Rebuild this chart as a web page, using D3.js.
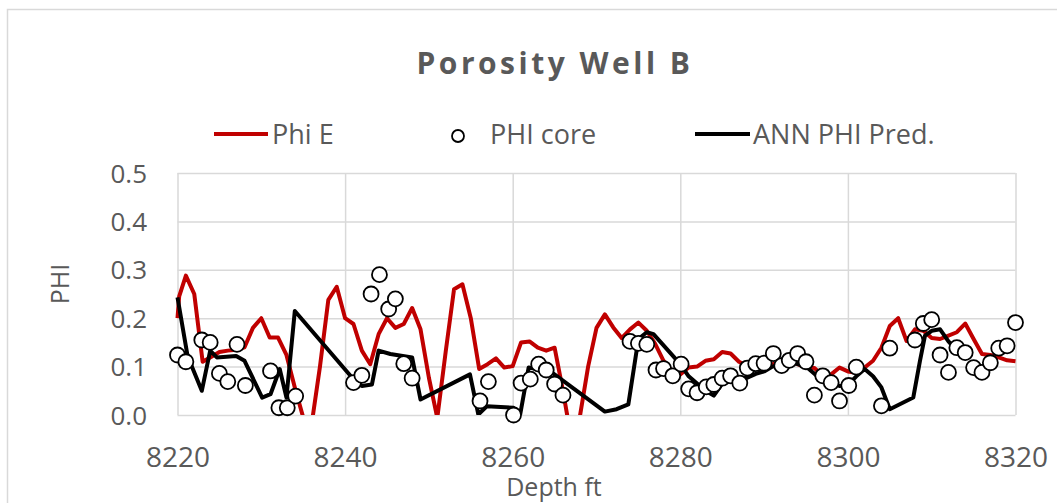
<!DOCTYPE html>
<html>
<head>
<meta charset="utf-8">
<script src="https://cdn.jsdelivr.net/npm/d3@7"></script>
<style>
  body { margin: 0; background: #fff; }
  text { font-family: "Open Sans", sans-serif; fill: #595959; }
</style>
</head>
<body>
<div id="chart"></div>
<script>
////////
// Data: [depth ft, porosity]
let phiE = [
  [8220, 0.2], [8220.2, 0.245], [8221, 0.288], [8222, 0.25], [8223, 0.11], [8224, 0.12],
  [8225, 0.13], [8226, 0.133], [8227, 0.135], [8228, 0.14], [8229, 0.18], [8230, 0.2],
  [8231, 0.16], [8232, 0.16], [8233, 0.124], [8234, 0.057], [8235, -0.005], [8236, -0.02],
  [8237, 0.1], [8238, 0.238], [8239, 0.265], [8240, 0.2], [8241, 0.188], [8242, 0.133],
  [8243, 0.105], [8244, 0.167], [8245, 0.2], [8246, 0.18], [8247, 0.188], [8248, 0.221],
  [8249, 0.177], [8250, 0.077], [8251, -0.006], [8252, 0.13], [8253, 0.26], [8254, 0.27],
  [8255, 0.2], [8256, 0.095], [8257, 0.105], [8258, 0.117], [8259, 0.098], [8260, 0.101],
  [8261, 0.15], [8262, 0.152], [8263, 0.139], [8264, 0.133], [8265, 0.139], [8266, 0.05],
  [8267, -0.05], [8268, -0.005], [8269, 0.1], [8270, 0.18], [8271, 0.208], [8272, 0.181],
  [8273, 0.159], [8274, 0.177], [8275, 0.191], [8276, 0.174], [8277, 0.147], [8278, 0.112],
  [8279, 0.091], [8280, 0.084], [8281, 0.098], [8282, 0.1], [8283, 0.112], [8284, 0.115],
  [8285, 0.13], [8286, 0.127], [8287, 0.11], [8288, 0.101], [8289, 0.104], [8290, 0.105],
  [8291, 0.105], [8292, 0.108], [8293, 0.112], [8294, 0.105], [8295, 0.098], [8296, 0.097],
  [8297, 0.081], [8298, 0.084], [8299, 0.098], [8300, 0.09], [8301, 0.087], [8302, 0.098],
  [8303, 0.112], [8304, 0.139], [8305, 0.184], [8306, 0.2], [8307, 0.153], [8308, 0.177],
  [8309, 0.174], [8310, 0.159], [8311, 0.157], [8312, 0.164], [8313, 0.171], [8314, 0.189],
  [8315, 0.157], [8316, 0.126], [8317, 0.124], [8318, 0.119], [8319, 0.113], [8320, 0.111]
];

let phiCore = [
  [8220, 0.124], [8221, 0.11], [8222.9, 0.155], [8223.9, 0.15], [8225, 0.086], [8226, 0.069],
  [8227.1, 0.146], [8228.1, 0.061], [8231.1, 0.091], [8232.1, 0.015], [8233.1, 0.015],
  [8234.1, 0.039], [8241, 0.067], [8242, 0.082], [8243.1, 0.25], [8244.1, 0.29],
  [8245.2, 0.219], [8246, 0.24], [8247, 0.106], [8248, 0.076], [8256.1, 0.029],
  [8257.1, 0.069], [8260.1, 0.0], [8261, 0.066], [8262.1, 0.074], [8263.1, 0.105],
  [8264, 0.093], [8265, 0.064], [8266, 0.041], [8274, 0.152], [8275, 0.148], [8276, 0.146],
  [8277.1, 0.093], [8278, 0.096], [8279.1, 0.081], [8280.1, 0.105], [8281, 0.054],
  [8282, 0.046], [8283.1, 0.058], [8284, 0.063], [8285, 0.076], [8286, 0.081],
  [8287.1, 0.066], [8288, 0.097], [8289, 0.106], [8290, 0.107], [8291.1, 0.127],
  [8292.1, 0.102], [8293, 0.113], [8294, 0.127], [8295, 0.11], [8296, 0.041], [8297, 0.081],
  [8298, 0.067], [8299, 0.029], [8300.1, 0.061], [8301, 0.099], [8304, 0.019], [8305, 0.138],
  [8308, 0.155], [8309, 0.189], [8310, 0.197], [8311, 0.124], [8312, 0.088], [8313, 0.139],
  [8314, 0.129], [8315, 0.098], [8316, 0.088], [8317, 0.108], [8318, 0.138], [8319, 0.143],
  [8320, 0.191]
];

let annPred = [
  [8220, 0.243], [8221.2, 0.122], [8222.9, 0.05], [8223.9, 0.133], [8224.7, 0.119],
  [8227, 0.122], [8228, 0.112], [8230.1, 0.036], [8231.1, 0.043], [8232.2, 0.095],
  [8233, 0.036], [8234, 0.215], [8241, 0.074], [8242, 0.06], [8243.2, 0.063], [8244, 0.133],
  [8245.4, 0.126], [8248, 0.119], [8249, 0.032], [8254.9, 0.084], [8255.9, 0.001],
  [8256.9, 0.018], [8260.1, 0.015], [8260.9, 0.002], [8261.9, 0.098], [8264.5, 0.09],
  [8271, 0.007], [8272.4, 0.012], [8273.8, 0.022], [8275, 0.157], [8276, 0.171],
  [8276.8, 0.167], [8280, 0.105], [8281, 0.08], [8282, 0.065], [8283, 0.05], [8284, 0.04],
  [8285, 0.065], [8286, 0.07], [8287, 0.075], [8288, 0.077], [8289, 0.085], [8290, 0.09],
  [8291, 0.1], [8292, 0.105], [8293, 0.11], [8294, 0.105], [8295, 0.1], [8296, 0.085],
  [8297, 0.07], [8298, 0.068], [8299, 0.06], [8300, 0.062], [8301, 0.08], [8302, 0.095],
  [8303, 0.08], [8304, 0.057], [8305, 0.012], [8307.8, 0.036], [8308.6, 0.112],
  [8309.2, 0.164], [8310, 0.174], [8311, 0.177], [8312, 0.152], [8313, 0.133]
];

let xTicks = [8220, 8240, 8260, 8280, 8300, 8320];
let yTicks = [0, 0.1, 0.2, 0.3, 0.4, 0.5];


////////
// Canvas
let svg_width = 1057;
let svg_height = 503;

let svg = d3.select("#chart")
  .append("svg")
  .attr("width", svg_width)
  .attr("height", svg_height);

// chart border (only top and left edges visible in the crop)
svg.append("rect")
  .attr("x", 7.5).attr("y", 9.5)
  .attr("width", 1200).attr("height", 700)
  .attr("fill", "none")
  .attr("stroke", "#d9d9d9")
  .attr("stroke-width", 1.5);

let plot = { left: 177.5, right: 1015.5, top: 173, bottom: 415 };


////////
// Scales
let xScale = d3.scaleLinear()
  .domain([8220, 8320])
  .range([plot.left, plot.right]);

let yScale = d3.scaleLinear()
  .domain([0, 0.5])
  .range([plot.bottom, plot.top]);


////////
// Grid, drawn with the axes and tick labels removed
svg.append("g")
  .attr("transform", `translate(0,${plot.bottom})`)
  .call(d3.axisBottom(xScale).tickValues(xTicks).tickSize(-(plot.bottom - plot.top)).tickFormat(""))
  .call(g => g.select(".domain").remove())
  .call(g => g.selectAll("line").attr("stroke", "#d9d9d9").attr("stroke-width", 1.5));

svg.append("g")
  .attr("transform", `translate(${plot.left},0)`)
  .call(d3.axisLeft(yScale).tickValues(yTicks).tickSize(-(plot.right - plot.left)).tickFormat(""))
  .call(g => g.select(".domain").remove())
  .call(g => g.selectAll("line").attr("stroke", "#d9d9d9").attr("stroke-width", 1.5));

// tick labels
svg.append("g")
  .attr("transform", `translate(0,${plot.bottom})`)
  .call(d3.axisBottom(xScale).tickValues(xTicks).tickSize(0).tickPadding(0).tickFormat(d3.format("d")))
  .call(g => g.select(".domain").remove())
  .call(g => g.selectAll("text")
    .attr("y", 52).attr("dy", null)
    .style("font-size", "28px")
    .style("font-family", "Open Sans")
    .attr("fill", "#595959"));

svg.append("g")
  .attr("transform", `translate(147,0)`)
  .call(d3.axisLeft(yScale).tickValues(yTicks).tickSize(0).tickPadding(0).tickFormat(d3.format(".1f")))
  .call(g => g.select(".domain").remove())
  .call(g => g.selectAll("text")
    .attr("x", 0).attr("dy", "9")
    .style("font-size", "26px")
    .style("font-family", "Open Sans")
    .attr("fill", "#595959"));


////////
// Series, clipped to the plot area
svg.append("clipPath").attr("id", "plotclip")
  .append("rect")
  .attr("x", plot.left - 10).attr("y", plot.top)
  .attr("width", plot.right - plot.left + 20)
  .attr("height", plot.bottom - plot.top);

let line = d3.line()
  .x(d => xScale(d[0]))
  .y(d => yScale(d[1]));

let series = svg.append("g").attr("clip-path", "url(#plotclip)");

series.append("path")
  .datum(phiE)
  .attr("d", line)
  .attr("fill", "none")
  .attr("stroke", "#c00000")
  .attr("stroke-width", 4)
  .attr("stroke-linejoin", "round");

series.append("path")
  .datum(annPred)
  .attr("d", line)
  .attr("fill", "none")
  .attr("stroke", "#000")
  .attr("stroke-width", 4)
  .attr("stroke-linejoin", "round");

svg.append("g").selectAll("circle")
  .data(phiCore)
  .enter()
  .append("circle")
  .attr("cx", d => xScale(d[0]))
  .attr("cy", d => yScale(d[1]))
  .attr("r", 7.5)
  .attr("fill", "#fff")
  .attr("stroke", "#000")
  .attr("stroke-width", 1.8);


////////
// Title, legend, axis titles
svg.append("text")
  .attr("x", 555).attr("y", 74)
  .attr("text-anchor", "middle")
  .style("font-size", "30px")
  .style("font-weight", "bold")
  .style("letter-spacing", "3.5px")
  .text("Porosity Well B");

let legend = svg.append("g");
legend.append("line")
  .attr("x1", 214).attr("x2", 268).attr("y1", 134).attr("y2", 134)
  .attr("stroke", "#c00000").attr("stroke-width", 4);
legend.append("text").attr("x", 272).attr("y", 144)
  .style("font-size", "27px").text("Phi E");

legend.append("circle")
  .attr("cx", 458).attr("cy", 136).attr("r", 6)
  .attr("fill", "#fff").attr("stroke", "#000").attr("stroke-width", 1.8);
legend.append("text").attr("x", 490).attr("y", 144)
  .style("font-size", "27px").text("PHI core");

legend.append("line")
  .attr("x1", 695).attr("x2", 750).attr("y1", 134).attr("y2", 134)
  .attr("stroke", "#000").attr("stroke-width", 4);
legend.append("text").attr("x", 753).attr("y", 144)
  .style("font-size", "27px").text("ANN PHI Pred.");

svg.append("text")
  .attr("transform", "translate(69,284) rotate(-90)")
  .attr("text-anchor", "middle")
  .style("font-size", "25px")
  .text("PHI");

svg.append("text")
  .attr("x", 554).attr("y", 496)
  .attr("text-anchor", "middle")
  .style("font-size", "25px")
  .text("Depth ft");
</script>
</body>
</html>
